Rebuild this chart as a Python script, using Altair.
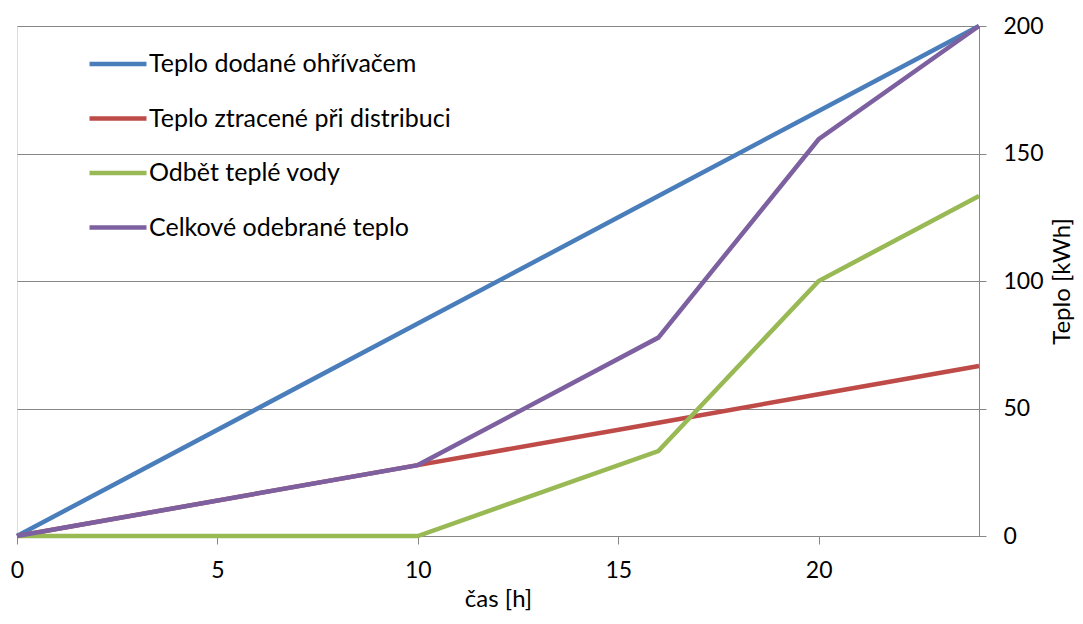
import altair as alt
import pandas as pd

hours = [0, 10, 16, 20, 24]
series_names = [
    "Teplo dodané ohřívačem",
    "Teplo ztracené při distribuci",
    "Odbět teplé vody",
    "Celkové odebrané teplo",
]
dodane = [0, 83.3, 133.3, 166.7, 200]
ztracene = [0, 27.8, 44.4, 55.6, 66.7]
odber = [0, 0, 33.3, 100, 133.3]
celkove = [0, 27.8, 77.8, 155.6, 200]
colors = ["#4A7EBB", "#BE4B48", "#98B954", "#7D60A0"]
x_ticks = [0, 5, 10, 15, 20]
y_ticks = [0, 50, 100, 150, 200]

rows = []
for i, (name, vals) in enumerate(zip(series_names, [dodane, ztracene, odber, celkove])):
    for h, v in zip(hours, vals):
        rows.append({"cas": h, "teplo": v, "serie": name, "poradi": i})
df = pd.DataFrame(rows)

FONT = "Lato"

chart = alt.Chart(df).mark_line(strokeWidth=4.5, strokeCap="butt", strokeJoin="miter").encode(
    x=alt.X("cas:Q",
            scale=alt.Scale(domain=[0, 24], nice=False, zero=False),
            axis=alt.Axis(values=x_ticks, title="čas [h]", grid=False,
                          domainColor="#878787", tickColor="#878787", tickSize=8,
                          labelFontSize=23, labelFont=FONT, labelColor="#000000",
                          labelPadding=15, labelFlush=False,
                          titleFont=FONT, titleFontSize=24,
                          titleFontWeight="normal", titleColor="#000000",
                          titleY=63, titleBaseline="middle")),
    y=alt.Y("teplo:Q",
            scale=alt.Scale(domain=[0, 200], nice=False),
            axis=alt.Axis(orient="right", values=y_ticks, title="Teplo [kWh]",
                          grid=True, gridColor="#878787", gridWidth=1,
                          domainColor="#878787", tickColor="#878787", tickSize=7,
                          labelFontSize=23, labelFont=FONT, labelColor="#000000",
                          labelPadding=17, labelBaseline="middle", labelFlush=False,
                          titleFont=FONT, titleFontSize=24, titleFontWeight="normal",
                          titleColor="#000000", titleAngle=270, titleX=83, titleY=255,
                          titleAlign="center", titleBaseline="middle")),
    color=alt.Color("serie:N",
                    scale=alt.Scale(domain=series_names, range=colors),
                    legend=alt.Legend(title=None, orient="none", legendX=70, legendY=28,
                                      symbolType="stroke", symbolSize=3249,
                                      symbolStrokeWidth=4.5, clipHeight=20,
                                      rowPadding=29.5, labelOffset=0, padding=0,
                                      labelFont=FONT, labelFontSize=25,
                                      labelColor="#000000", labelLimit=500)),
    order=alt.Order("poradi:Q"),
    detail="serie:N",
).properties(
    width=962,
    height=510,
    autosize=alt.AutoSizeParams(type="none"),
    padding={"left": 9, "top": 18, "right": 96, "bottom": 80},
).configure_view(stroke=None).configure(background="#ffffff")

chart.save("out.html", embed_options={"renderer": "svg", "actions": False})
